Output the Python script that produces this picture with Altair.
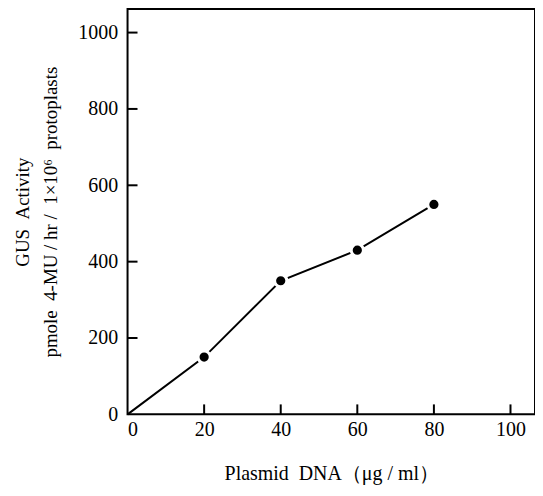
import altair as alt
import pandas as pd

# data
dna = [0, 20, 40, 60, 80]
gus = [0, 150, 350, 430, 550]
x_ticks = [0, 20, 40, 60, 80, 100]
y_ticks = [0, 200, 400, 600, 800, 1000]

FONT = "Liberation Serif"
W, H = 409, 407
S = "\u00a0"

df = pd.DataFrame({"dna": dna, "gus": gus})
pts = df[df["dna"] > 0]

xs = alt.Scale(domain=[0, 106.4], nice=False, zero=False)
ys = alt.Scale(domain=[0, 1062], nice=False)

x_axis = alt.Axis(
    values=x_ticks, ticks=False, domain=False, grid=False, format="d",
    labelFont=FONT, labelFontSize=20, labelPadding=5, labelColor="black",
    title=f"Plasmid{S}{S}DNA（μg / ml）", titleFont=FONT, titleFontSize=20,
    titleFontWeight="normal", titleColor="black", titlePadding=24,
)
y_axis = alt.Axis(
    values=y_ticks, ticks=False, domain=False, grid=False, format="d",
    labelFont=FONT, labelFontSize=20, labelPadding=10, labelColor="black",
    title=[f"GUS{S}{S}Activity", f"pmole{S}{S}4-MU / hr /{S}{S}1×10⁶{S}{S}protoplasts"],
    titleFont=FONT, titleFontSize=19, titleFontWeight="normal",
    titleColor="black", titlePadding=17, titleLineHeight=28,
)

line = alt.Chart(df).mark_line(color="black", strokeWidth=2).encode(
    x=alt.X("dna:Q", scale=xs, axis=x_axis),
    y=alt.Y("gus:Q", scale=ys, axis=y_axis),
)
points = alt.Chart(pts).mark_point(
    filled=True, fill="black", stroke="white", strokeWidth=3, size=150, opacity=1, shape="circle"
).encode(
    x=alt.X("dna:Q"),
    y=alt.Y("gus:Q"),
)
xt = alt.Chart(pd.DataFrame({"dna": x_ticks[1:]})).mark_rule(color="black", strokeWidth=2).encode(
    x=alt.X("dna:Q"),
    y=alt.value(H), y2=alt.value(H - 10),
)
yt = alt.Chart(pd.DataFrame({"gus": y_ticks[1:]})).mark_rule(color="black", strokeWidth=2).encode(
    y=alt.Y("gus:Q"),
    x=alt.value(0), x2=alt.value(10),
)

chart = (
    alt.layer(line, points, xt, yt)
    .properties(
        width=W, height=H,
        autosize=alt.AutoSizeParams(type="none"),
        padding={"left": 120, "top": 0, "right": 0, "bottom": 73},
        background="white",
    )
    .configure_view(stroke="black", strokeWidth=2)
)

chart.save("out.html", embed_options={"renderer": "svg", "actions": False})
